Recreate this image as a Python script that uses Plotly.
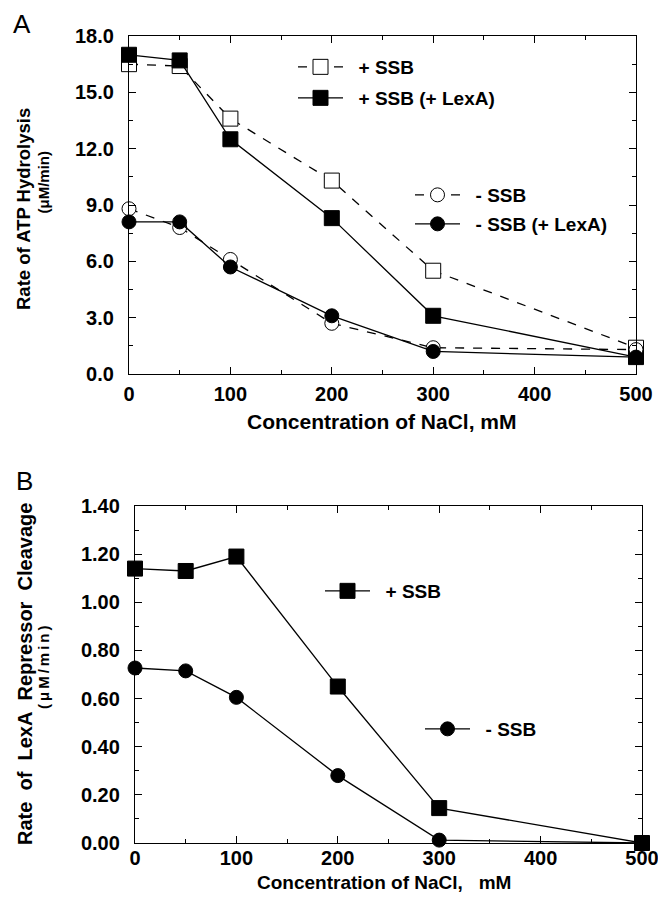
import plotly.graph_objects as go

# ---------------- data ----------------
nacl = [0, 50, 100, 200, 300, 500]

# Panel A: rate of ATP hydrolysis (uM/min)
a_plus_ssb = [16.5, 16.4, 13.6, 10.3, 5.5, 1.4]
a_plus_ssb_lexa = [17.0, 16.7, 12.5, 8.3, 3.1, 0.9]
a_minus_ssb = [8.8, 7.8, 6.1, 2.7, 1.4, 1.3]
a_minus_ssb_lexa = [8.1, 8.1, 5.7, 3.1, 1.2, 0.9]

# Panel B: rate of LexA repressor cleavage (uM/min)
b_plus_ssb = [1.14, 1.13, 1.19, 0.65, 0.145, 0.0]
b_minus_ssb = [0.727, 0.715, 0.605, 0.28, 0.012, 0.0]

x_ticks = [0, 100, 200, 300, 400, 500]
a_yticks = [0, 3, 6, 9, 12, 15, 18]
b_yticks = [0, 0.2, 0.4, 0.6, 0.8, 1.0, 1.2, 1.4]

FONT = "Liberation Sans, Arial, sans-serif"
OFF = 8            # page body margin
W, H = 666 - 2 * OFF, 902 - 2 * OFF
NB = "\u00a0"
TS = "\u2009"

fig = go.Figure()


def add(x, y, name, xa, ya, symbol, fill, size, dash, legend):
    fig.add_trace(go.Scatter(
        x=x, y=y, name=NB + NB + name, xaxis=xa, yaxis=ya, mode="lines+markers",
        line=dict(color="black", width=1.3, dash=dash),
        marker=dict(symbol=symbol, size=size, color=fill,
                    line=dict(color="black", width=1)),
        cliponaxis=False, legend=legend, showlegend=True,
    ))


add(nacl, a_plus_ssb, "+ SSB", "x", "y", "square", "white", 15, "dash", "legend")
add(nacl, a_plus_ssb_lexa, "+ SSB (+ LexA)", "x", "y", "square", "black", 15, "solid", "legend2")
add(nacl, a_minus_ssb, "- SSB", "x", "y", "circle", "white", 14, "dash", "legend3")
add(nacl, a_minus_ssb_lexa, "- SSB (+ LexA)", "x", "y", "circle", "black", 14, "solid", "legend4")
add(nacl, b_plus_ssb, "+ SSB", "x2", "y2", "square", "black", 15, "solid", "legend5")
add(nacl, b_minus_ssb, "- SSB", "x2", "y2", "circle", "black", 14, "solid", "legend6")


def px(xp):
    return (xp - OFF) / W


def py(yp):
    return 1 - (yp - OFF) / H


tickfont = dict(family=FONT, size=20, color="black", weight="bold")


def xax(dom, anchor, standoff):
    return dict(
        domain=dom, anchor=anchor,
        range=[0, 500], tickvals=x_ticks, ticks="inside", ticklen=7, tickwidth=1,
        tickcolor="black", showline=True, linecolor="black", linewidth=1.3,
        mirror="ticks", showgrid=False, zeroline=False, tickfont=tickfont,
        automargin=False, ticklabelstandoff=standoff, ticklabeloverflow="allow",
        minor=dict(dtick=50, ticks="inside", ticklen=4, tickcolor="black", showgrid=False),
    )


def yax(dom, anchor, rng, tv, fmt, minor_dt):
    return dict(domain=dom, anchor=anchor, range=rng, tickvals=tv, tickformat=fmt,
                ticks="inside", ticklen=7, tickcolor="black", showline=True,
                linecolor="black", linewidth=1.3, mirror="ticks", showgrid=False,
                zeroline=False, tickfont=tickfont, ticklabelstandoff=10,
                automargin=False, ticklabeloverflow="allow",
                minor=dict(dtick=minor_dt, ticks="inside", ticklen=4,
                           tickcolor="black", showgrid=False))


legend_font = dict(family=FONT, size=19, color="black", weight="bold")


def leg(xp, yp):
    return dict(x=px(xp), y=py(yp), xanchor="left", yanchor="middle",
                bgcolor="rgba(0,0,0,0)", font=legend_font, itemwidth=45,
                borderwidth=0)


fig.update_layout(
    template="none",
    width=W, height=H, margin=dict(l=0, r=0, t=0, b=0, autoexpand=False),
    paper_bgcolor="white", plot_bgcolor="white",
    xaxis=xax([px(129), px(636)], "y", 2),
    yaxis=yax([py(374), py(36)], "x", [0, 18], a_yticks, ".1f", 1.5),
    xaxis2=xax([px(135), px(642)], "y2", -3),
    yaxis2=yax([py(843), py(506)], "x2", [0, 1.4], b_yticks, ".2f", 0.1),
    legend=leg(293, 67),
    legend2=leg(293, 98),
    legend3=leg(410, 195),
    legend4=leg(410, 224),
    legend5=leg(320, 591),
    legend6=leg(420, 729),
    showlegend=True,
)

title_font = dict(family=FONT, size=21, color="black", weight="bold")
unit_font = dict(family=FONT, size=15, color="black", weight="bold")
unit_b = TS.join("(μM/min)")
ann = [
    dict(text="A", x=px(22), y=py(24), font=dict(family=FONT, size=26, color="black")),
    dict(text="B", x=px(24), y=py(481), font=dict(family=FONT, size=26, color="black")),
    dict(text="Concentration of NaCl, mM", x=px(382), y=py(422), font=title_font),
    dict(text=f"Concentration of NaCl,{NB}{NB} mM", x=px(384), y=py(882),
         font=dict(family=FONT, size=19, color="black", weight="bold")),
    dict(text="Rate of ATP Hydrolysis", x=px(23), y=py(209), textangle=-90,
         font=dict(family=FONT, size=18.5, color="black", weight="bold")),
    dict(text="(μM/min)", x=px(43.5), y=py(182), textangle=-90, font=unit_font),
    dict(text=f"Rate{NB} of{NB} LexA{NB} Repressor{NB} Cleavage",
         x=px(25), y=py(674), textangle=-90,
         font=dict(family=FONT, size=20, color="black", weight="bold")),
    dict(text=unit_b, x=px(43), y=py(667), textangle=-90, font=unit_font),
]
for a in ann:
    a.update(xref="paper", yref="paper", showarrow=False, xanchor="center", yanchor="middle")
fig.update_layout(annotations=ann)

fig.write_html("out.html")
